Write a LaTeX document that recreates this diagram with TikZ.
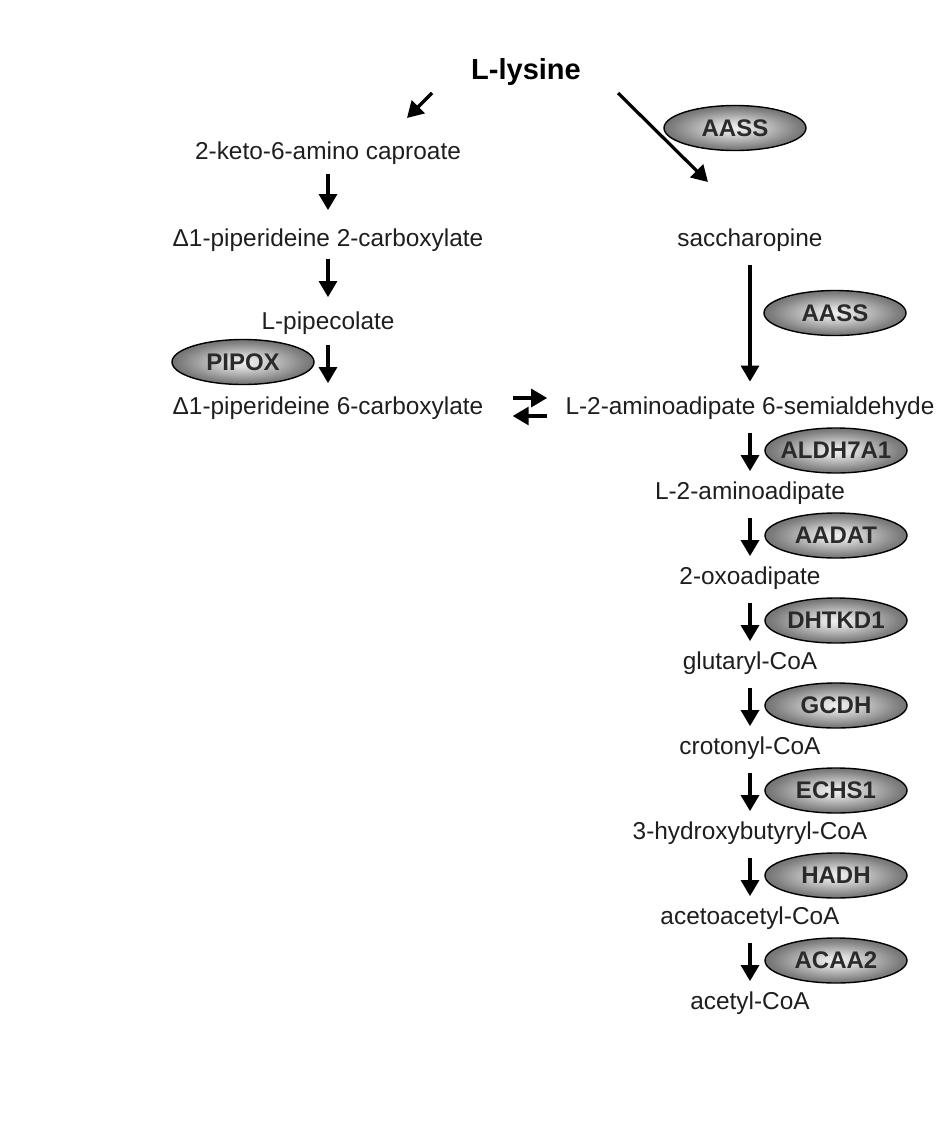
\documentclass[tikz,border=0pt]{standalone}
\usepackage{fontspec}
\setmainfont{Liberation Sans}
\usepackage{xcolor}
\usepackage{tikz}
\definecolor{enzymetext}{HTML}{2a2a2a}
\definecolor{metabtext}{HTML}{1e1e1e}
\usetikzlibrary{shapes, arrows.meta, positioning, calc}
\pgfdeclareradialshading{enzymeshade}{\pgfpoint{0bp}{0bp}}{color(0bp)=(white!94!black); color(6bp)=(white!86!black); color(22bp)=(black!50); color(36bp)=(black!74); color(50bp)=(black!84)}

\begin{document}
\begin{tikzpicture}[x=0.5pt, y=-0.5pt,
    compound/.style={font=\fontsize{12.2}{14}\selectfont, text=metabtext, text height=9pt, text depth=2.5pt, inner sep=2pt, on grid},
    enzyme/.style={draw, ellipse, line width=0.7pt, shading=enzymeshade, minimum width=71pt, minimum height=22.5pt, inner sep=0pt, font=\fontsize{12}{14}\selectfont\bfseries, text=enzymetext},
    rxn/.style={-{Triangle[width=9pt, length=8pt]}, line width=1.6pt, shorten <=4.5pt, shorten >=3pt}]
    \useasboundingbox (0,0) rectangle (939,1125);

    \node[font=\fontsize{14.5}{16}\selectfont\bfseries] (lys) at (526,72) {L-lysine};

    \node[compound] (kac) at (328,153) {2-keto-6-amino caproate};
    \node[compound, below=43.5pt of kac] (p2c) {Δ1-piperideine 2-carboxylate};
    \node[compound, below=41.5pt of p2c] (pip) {L-pipecolate};
    \node[compound, below=42.5pt of pip] (p6c) {Δ1-piperideine 6-carboxylate};

    \node[compound] (sac) at (750,240) {saccharopine};
    \node[compound] (aas) at (750,408) {L-2-aminoadipate 6-semialdehyde};
    \node[compound, below=42.5pt of aas] (aam) {L-2-aminoadipate};
    \node[compound, below=42.5pt of aam] (oxo) {2-oxoadipate};
    \node[compound, below=42.5pt of oxo] (glu) {glutaryl-CoA};
    \node[compound, below=42.5pt of glu] (cro) {crotonyl-CoA};
    \node[compound, below=42.5pt of cro] (hbc) {3-hydroxybutyryl-CoA};
    \node[compound, below=42.5pt of hbc] (aac) {acetoacetyl-CoA};
    \node[compound, below=42.5pt of aac] (acc) {acetyl-CoA};

    \coordinate (lysL) at (432,93);
    \coordinate (kacIn) at (407,118);
    \coordinate (lysR) at (618,93);
    \coordinate (sacIn) at (708,182);
    \draw[rxn, shorten <=0pt, shorten >=0pt] (lysL) -- (kacIn);
    \draw[rxn, shorten <=0pt, shorten >=0pt] (lysR) -- (sacIn);
    \node[enzyme] (aass1) at (735,128) {AASS};

    \draw[rxn, shorten <=2.5pt, shorten >=7pt] (kac) -- (p2c);
    \draw[rxn, shorten <=1.5pt, shorten >=5pt] (p2c) -- (pip);
    \draw[rxn, shorten <=3pt, shorten >=4.5pt] (pip) -- (p6c);
    \path (pip) -- node[enzyme, xshift=-42.5pt, yshift=1.75pt] (pipox) {PIPOX} (p6c);

    \draw[rxn, shorten <=4.75pt, shorten >=5.25pt] (sac) -- (aas);
    \path (sac) -- node[enzyme, xshift=42.5pt, yshift=5.5pt] (aass2) {AASS} (aas);

    \draw[rxn, shorten <=12.5pt, shorten >=7pt] ([yshift=5pt]p6c.east) -- ([yshift=5pt]aas.west);
    \draw[rxn, shorten <=7pt, shorten >=12.5pt] ([yshift=-4pt]aas.west) -- ([yshift=-4pt]p6c.east);

    \draw[rxn] (aas) -- (aam);
    \draw[rxn] (aam) -- (oxo);
    \draw[rxn] (oxo) -- (glu);
    \draw[rxn] (glu) -- (cro);
    \draw[rxn] (cro) -- (hbc);
    \draw[rxn] (hbc) -- (aac);
    \draw[rxn] (aac) -- (acc);
    \path (aas) -- node[enzyme, xshift=43pt] (aldh) {\makebox[0pt]{ALDH7A1}} (aam);
    \path (aam) -- node[enzyme, xshift=43pt] (aadat) {\makebox[0pt]{AADAT}} (oxo);
    \path (oxo) -- node[enzyme, xshift=43pt] (dhtkd) {\makebox[0pt]{DHTKD1}} (glu);
    \path (glu) -- node[enzyme, xshift=43pt] (gcdh) {GCDH} (cro);
    \path (cro) -- node[enzyme, xshift=43pt] (echs) {ECHS1} (hbc);
    \path (hbc) -- node[enzyme, xshift=43pt] (hadh) {HADH} (aac);
    \path (aac) -- node[enzyme, xshift=43pt] (acaa) {ACAA2} (acc);
\end{tikzpicture}
\end{document}
